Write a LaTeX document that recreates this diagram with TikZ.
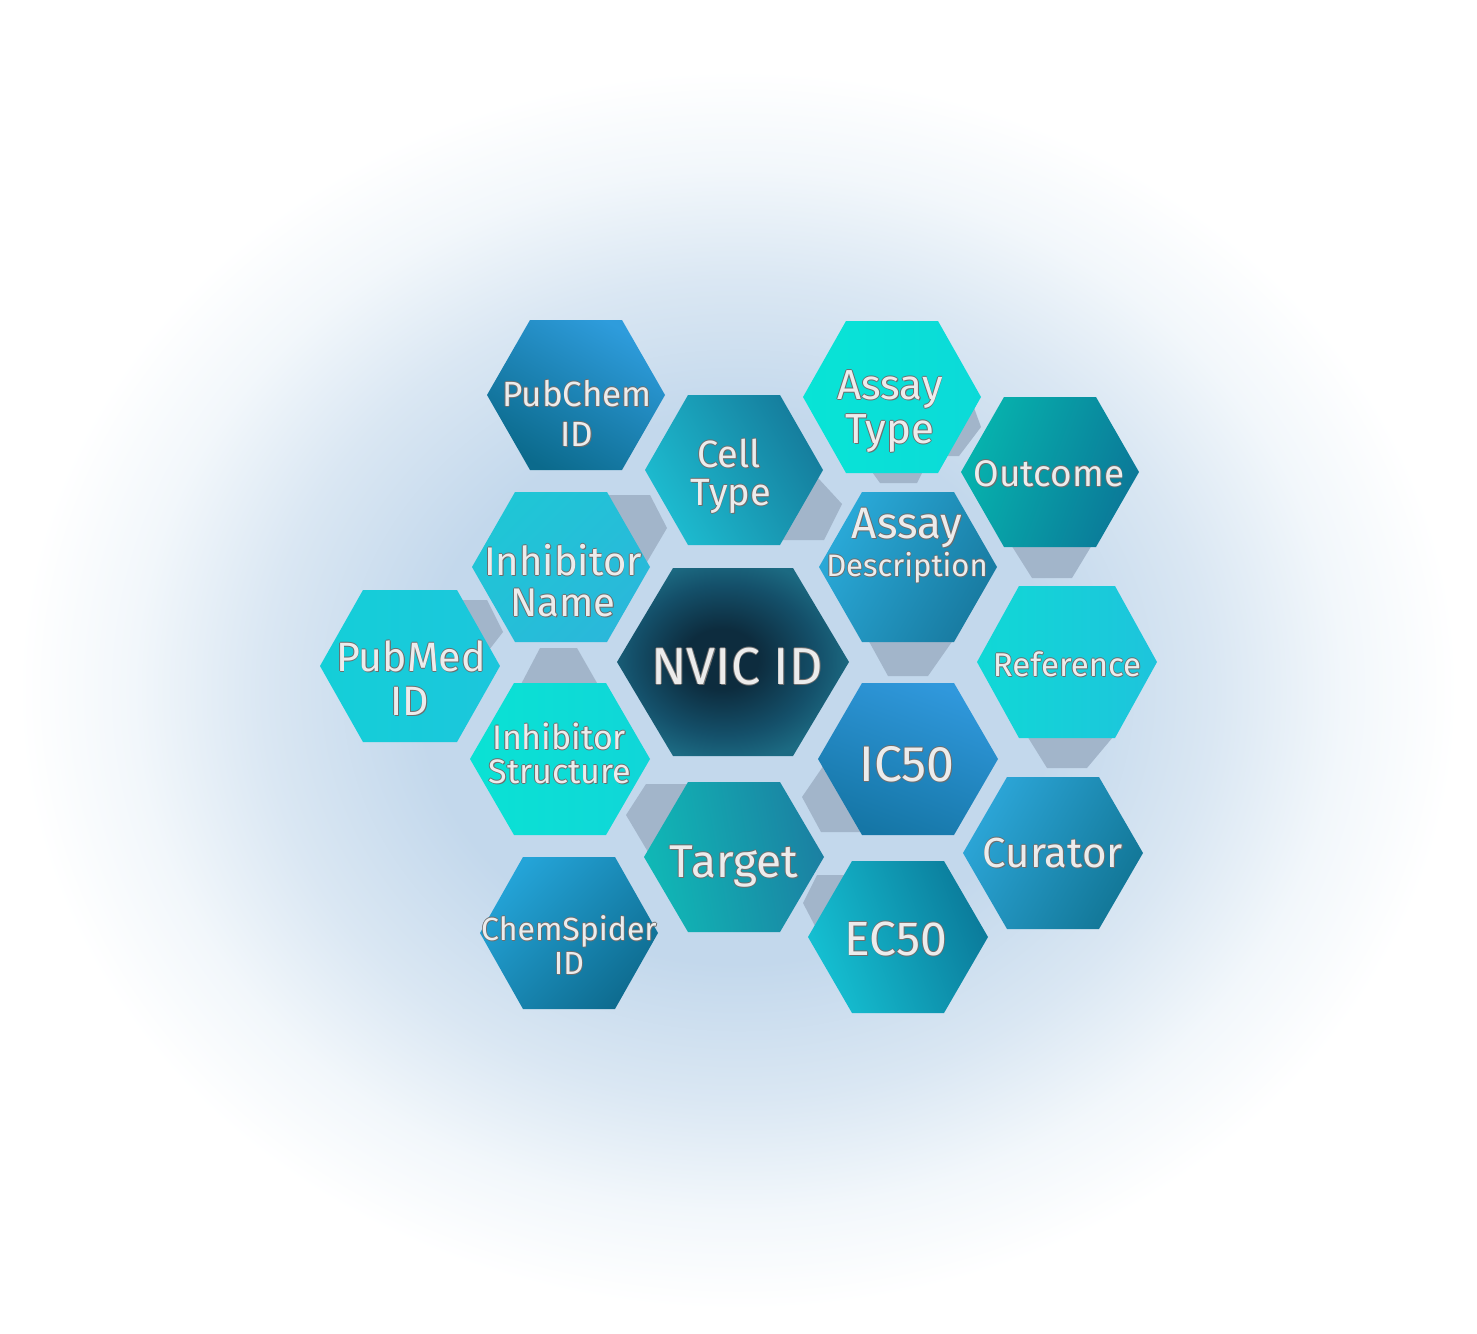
\documentclass[tikz,border=0pt]{standalone}
\usepackage{fontspec}
\setmainfont{Fira Sans}
\definecolor{glowA}{HTML}{C3D8EC}
\definecolor{glowB}{HTML}{DAE7F3}
\definecolor{glowC}{HTML}{F2F7FB}
\definecolor{nvA}{HTML}{0D2C3E}
\definecolor{nvB}{HTML}{14506A}
\definecolor{nvC}{HTML}{1C6A82}
\definecolor{greyhex}{HTML}{A2B5CA}
\definecolor{txt}{HTML}{ECECEC}
\definecolor{txtol}{HTML}{6E6E6E}
\pgfdeclareradialshading{glow}{\pgfpoint{0bp}{0bp}}{color(0bp)=(glowA); color(11bp)=(glowA); color(16.5bp)=(glowB); color(21bp)=(glowC); color(25bp)=(white); color(50bp)=(white)}
\pgfdeclareradialshading{nvicshade}{\pgfpoint{-3bp}{1bp}}{color(0bp)=(nvA); color(8bp)=(nvA); color(20bp)=(nvB); color(27bp)=(nvC); color(50bp)=(nvC)}
\newcommand\hexp[5]{({#1-#3},{#2}) -- ({#1-#4},{#2-#5}) -- ({#1+#4},{#2-#5}) -- ({#1+#3},{#2}) -- ({#1+#4},{#2+#5}) -- ({#1-#4},{#2+#5}) -- cycle}
\newcommand\olt[1]{\rlap{\kern-0.8pt\textcolor{txtol}{#1}}\rlap{\kern0.8pt\textcolor{txtol}{#1}}\rlap{\raisebox{0.8pt}{\textcolor{txtol}{#1}}}\rlap{\kern0.5pt\raisebox{-1pt}{\textcolor{txtol}{#1}}}#1}
\newcommand\fs[1]{\fontsize{#1}{#1}\selectfont}
\tikzset{
  lbl/.style={text=txt, anchor=base, inner sep=0pt},
  greyshape/.style={fill=greyhex},
}
\begin{document}
\begin{tikzpicture}[x=1pt,y=-1pt]
\useasboundingbox (0,0) rectangle (1477,1333);
\fill[white] (0,0) rectangle (1477,1333);
\shade[shading=glow] (738,690) ellipse [x radius=720, y radius=620];
% grey partially hidden shapes
\fill[greyshape] (600,495) -- (650,495) -- (667,528) -- (647,562) -- (610,562) -- cycle;
\fill[greyshape] (805,478) -- (818,478) -- (842,504) -- (824,540) -- (782,540) -- cycle;
\fill[greyshape] (960,405) -- (973,405) -- (981,427) -- (959,456) -- (945,456) -- cycle;
\fill[greyshape] (867,465) -- (926,465) -- (917,483) -- (880,483) -- cycle;
\fill[greyshape] (1008,540) -- (1095,540) -- (1072,578) -- (1032,578) -- cycle;
\fill[greyshape] (866,636) -- (956,636) -- (928,676) -- (888,676) -- cycle;
\fill[greyshape] (1024,731) -- (1118,731) -- (1087,768) -- (1047,768) -- cycle;
\fill[greyshape] (826,762) -- (802,797) -- (821,832) -- (862,832) -- cycle;
\fill[greyshape] (646,784) -- (690,784) -- (690,830) -- (648,852) -- (626,815) -- cycle;
\fill[greyshape] (817,875) -- (850,875) -- (850,920) -- (815,926) -- (803,903) -- cycle;
\fill[greyshape] (460,600) -- (487,600) -- (503,632) -- (489,650) -- (470,650) -- cycle;
\fill[greyshape] (540,648) -- (577,648) -- (601,690) -- (518,690) -- cycle;
% hexagons
\shade[top color={rgb,255:red,46;green,156;blue,220}, bottom color={rgb,255:red,11;green,106;blue,140}, shading angle=-30] \hexp{576}{395}{89}{46}{75};
\shade[top color={rgb,255:red,29;green,188;blue,208}, bottom color={rgb,255:red,21;green,124;blue,156}, shading angle=120] \hexp{734}{470}{89}{46}{75};
\shade[top color={rgb,255:red,8;green,228;blue,214}, bottom color={rgb,255:red,12;green,218;blue,216}, shading angle=90] \hexp{892}{397}{89}{46}{76};
\shade[top color={rgb,255:red,6;green,180;blue,174}, bottom color={rgb,255:red,11;green,120;blue,152}, shading angle=70] \hexp{1050}{472}{89}{46}{75};
\shade[top color={rgb,255:red,42;green,170;blue,217}, bottom color={rgb,255:red,24;green,122;blue,160}, shading angle=60] \hexp{908}{567}{89}{46}{75};
\shade[top color={rgb,255:red,31;green,198;blue,214}, bottom color={rgb,255:red,42;green,184;blue,218}, shading angle=45] \hexp{561}{567}{89}{46}{75};
\shade[top color={rgb,255:red,20;green,207;blue,216}, bottom color={rgb,255:red,28;green,198;blue,220}, shading angle=90] \hexp{410}{666}{90}{47}{76};
\shade[top color={rgb,255:red,10;green,226;blue,212}, bottom color={rgb,255:red,16;green,214;blue,216}, shading angle=90] \hexp{560}{759}{90}{46}{76};
\shade[shading=nvicshade] \hexp{733}{662}{116}{60}{94};
\shade[top color={rgb,255:red,16;green,216;blue,214}, bottom color={rgb,255:red,30;green,196;blue,220}, shading angle=90] \hexp{1067}{662}{90}{48}{76};
\shade[top color={rgb,255:red,48;green,152;blue,220}, bottom color={rgb,255:red,21;green,118;blue,166}, shading angle=-20] \hexp{908}{759}{90}{46}{76};
\shade[top color={rgb,255:red,44;green,166;blue,216}, bottom color={rgb,255:red,18;green,118;blue,150}, shading angle=60] \hexp{1053}{853}{90}{46}{76};
\shade[top color={rgb,255:red,16;green,184;blue,182}, bottom color={rgb,255:red,27;green,128;blue,162}, shading angle=100] \hexp{734}{857}{90}{46}{75};
\shade[top color={rgb,255:red,36;green,164;blue,216}, bottom color={rgb,255:red,14;green,108;blue,144}, shading angle=45] \hexp{569}{933}{89}{46}{76};
\shade[top color={rgb,255:red,21;green,192;blue,210}, bottom color={rgb,255:red,11;green,122;blue,154}, shading angle=110] \hexp{898}{937}{90}{46}{76};
% labels
\node[lbl, font=\fs{35}] (pubchemA) at (577,406) {\olt{PubChem}};
\node[lbl, font=\fs{35}] (pubchemB) at (577,446) {\olt{ID}};
\node[lbl, font=\fs{38}] (cellA) at (729,467) {\olt{Cell}};
\node[lbl, font=\fs{38}] (cellB) at (731,505) {\olt{Type}};
\node[lbl, font=\fs{42}] (assaytA) at (890,399) {\olt{Assay}};
\node[lbl, font=\fs{42}] (assaytB) at (890,443) {\olt{Type}};
\node[lbl, font=\fs{37}] (outcome) at (1049,486) {\olt{Outcome}};
\node[lbl, font=\fs{44}] (assaydA) at (907,538) {\olt{Assay}};
\node[lbl, font=\fs{31}] (assaydB) at (907,576) {\olt{Description}};
\node[lbl, font=\fs{40}] (inhnA) at (563,575) {\olt{Inhibitor}};
\node[lbl, font=\fs{40}] (inhnB) at (563,616) {\olt{Name}};
\node[lbl, font=\fs{41}] (pubmedA) at (411,671) {\olt{PubMed}};
\node[lbl, font=\fs{41}] (pubmedB) at (410,715) {\olt{ID}};
\node[lbl, font=\fs{52}] (nvic) at (737,684) {\olt{NVIC ID}};
\node[lbl, font=\fs{33}] (reference) at (1067,676) {\olt{Reference}};
\node[lbl, font=\fs{34}] (inhsA) at (559,749) {\olt{Inhibitor}};
\node[lbl, font=\fs{34}] (inhsB) at (560,783) {\olt{Structure}};
\node[lbl, font=\fs{50}] (ic50) at (907,781) {\olt{IC50}};
\node[lbl, font=\fs{46}] (target) at (734,877) {\olt{Target}};
\node[lbl, font=\fs{42}] (curator) at (1053,867) {\olt{Curator}};
\node[lbl, font=\fs{32}] (chemA) at (569,940) {\olt{ChemSpider}};
\node[lbl, font=\fs{32}] (chemB) at (569,974) {\olt{ID}};
\node[lbl, font=\fs{48}] (ec50) at (896,955) {\olt{EC50}};
\end{tikzpicture}
\end{document}
